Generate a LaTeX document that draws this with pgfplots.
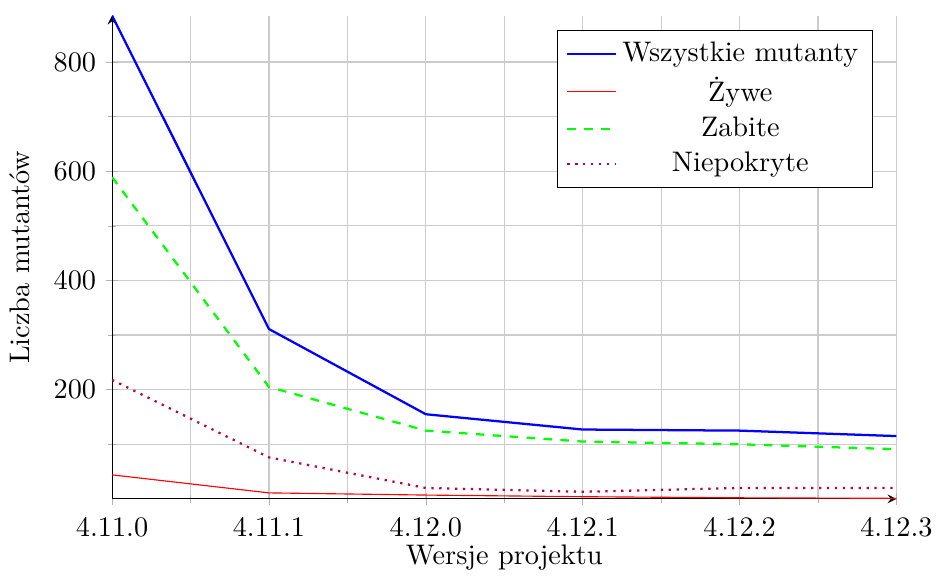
\documentclass[border=0pt]{standalone}
\usepackage{pgfplots}
\pgfplotsset{compat=1.18}
\begin{document}
\begin{tikzpicture}
\begin{axis}[
  scale only axis,
  width=277.5pt, height=171pt,
  axis x line=bottom, axis y line=left,
  xmin=0, xmax=5, ymin=0, ymax=885,
  xtick={0,1,2,3,4,5},
  xticklabels={4.11.0,4.11.1,4.12.0,4.12.1,4.12.2,4.12.3},
  minor x tick num=1,
  ytick={200,400,600,800},
  minor ytick={100,300,500,700},
  grid=both,
  major grid style={gray!40},
  minor grid style={gray!40},
  tick style={gray!60},
  xticklabel style={yshift=-0.8pt},
  xlabel={Wersje projektu},
  xlabel style={yshift=4pt},
  ylabel={Liczba mutantów},
  ylabel style={yshift=1.7pt},
  legend pos=north east,
  legend cell align=center,
]
\addplot[blue, thick] coordinates {(0,885) (1,311) (2,155) (3,127) (4,125) (5,115)};
\addlegendentry{Wszystkie mutanty}
\addplot[draw=red, color=red] coordinates {(0,44) (1,11) (2,7) (3,4) (4,2) (5,1)};
\addlegendentry{Żywe}
\addplot[green, thick, dashed] coordinates {(0,589) (1,205) (2,125) (3,105) (4,100) (5,91)};
\addlegendentry{Zabite}
\addplot[purple, thick, dotted] coordinates {(0,218) (1,76) (2,20) (3,13) (4,20) (5,20)};
\addlegendentry{Niepokryte}
\end{axis}
\path (current bounding box.north) ++(0,5.3pt) coordinate (topgap);
\useasboundingbox (current bounding box.south west) rectangle (current bounding box.north east |- topgap);
\end{tikzpicture}
\end{document}
